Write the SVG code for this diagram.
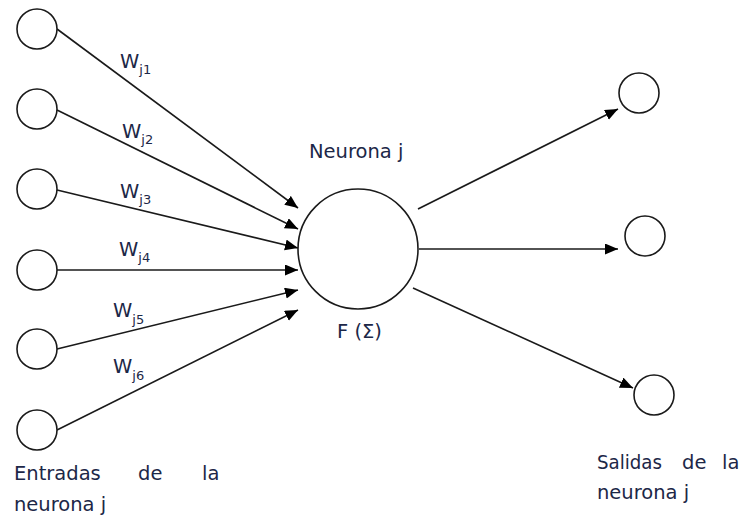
<svg xmlns="http://www.w3.org/2000/svg" width="743" height="523" viewBox="0 0 743 523">
<style>
.n{fill:#fff;stroke:#1a1a1a;stroke-width:1.6}
.c{stroke:#1a1a1a;stroke-width:1.6;fill:none;marker-end:url(#ah)}
.t{font-family:"DejaVu Sans",sans-serif;font-size:19.5px;fill:#1c2747}
.w{font-family:"DejaVu Sans",sans-serif;font-size:19.5px;fill:#1c2747}
.s{font-size:13px}
</style>
<defs>
<marker id="ah" markerUnits="userSpaceOnUse" markerWidth="14" markerHeight="12" refX="13" refY="5.5" orient="auto">
<path d="M0,0 L13,5.5 L0,11 z" fill="#000"/>
</marker>
</defs>
<rect width="743" height="523" fill="#fff"/>
<g id="connectors">
<line class="c" x1="57" y1="29" x2="298" y2="208"/>
<line class="c" x1="57" y1="110" x2="298" y2="229"/>
<line class="c" x1="57" y1="190" x2="298" y2="248"/>
<line class="c" x1="57" y1="270" x2="298" y2="270"/>
<line class="c" x1="57" y1="349" x2="298" y2="290"/>
<line class="c" x1="57" y1="430" x2="298" y2="310"/>
<line class="c" x1="418" y1="209" x2="618" y2="109"/>
<line class="c" x1="419" y1="249" x2="618" y2="249"/>
<line class="c" x1="413" y1="288" x2="633" y2="388"/>
</g>
<g id="in1"><circle class="n" cx="37" cy="29" r="20"/></g>
<g id="in2"><circle class="n" cx="37" cy="109" r="20"/></g>
<g id="in3"><circle class="n" cx="37" cy="189" r="20"/></g>
<g id="in4"><circle class="n" cx="37" cy="270" r="20"/></g>
<g id="in5"><circle class="n" cx="37" cy="349" r="20"/></g>
<g id="in6"><circle class="n" cx="37" cy="430" r="20"/></g>
<g id="neuron">
<circle class="n" cx="358" cy="249" r="60"/>
<text class="t" x="309" y="158">Neurona j</text>
<text class="t" x="337" y="338">F (Σ)</text>
</g>
<g id="out1"><circle class="n" cx="639" cy="93" r="20"/></g>
<g id="out2"><circle class="n" cx="645" cy="236" r="20"/></g>
<g id="out3"><circle class="n" cx="654" cy="395" r="20"/></g>
<g id="weights">
<text class="w" x="120" y="68">W<tspan class="s" dy="6">j1</tspan></text>
<text class="w" x="122" y="138">W<tspan class="s" dy="6">j2</tspan></text>
<text class="w" x="120" y="198">W<tspan class="s" dy="6">j3</tspan></text>
<text class="w" x="119" y="256">W<tspan class="s" dy="6">j4</tspan></text>
<text class="w" x="113" y="317">W<tspan class="s" dy="7">j5</tspan></text>
<text class="w" x="113" y="373">W<tspan class="s" dy="7">j6</tspan></text>
</g>
<g id="inputs-label">
<text class="t" x="14" y="480">Entradas</text>
<text class="t" x="138" y="480">de</text>
<text class="t" x="202" y="480">la</text>
<text class="t" x="14" y="511">neurona j</text>
</g>
<g id="outputs-label">
<text class="t" x="597" y="469" textLength="65" lengthAdjust="spacingAndGlyphs">Salidas</text>
<text class="t" x="682" y="469">de</text>
<text class="t" x="722" y="469">la</text>
<text class="t" x="597" y="499">neurona j</text>
</g>
</svg>
